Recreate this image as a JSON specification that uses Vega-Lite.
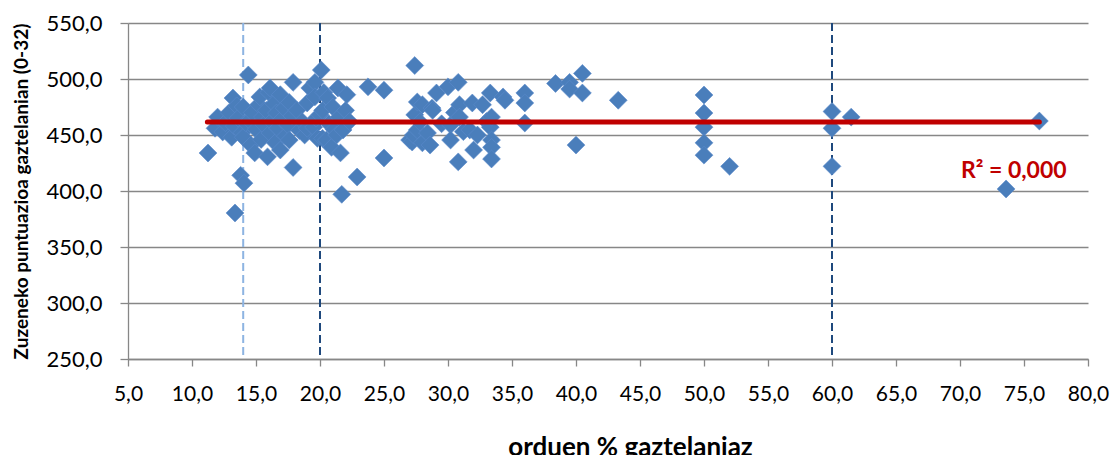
{
  "$schema": "https://vega.github.io/schema/vega-lite/v6.json",
  "width": 960,
  "height": 336,
  "autosize": {"type": "none"},
  "padding": {"left": 128, "top": 23, "right": 25, "bottom": 96},
  "background": "white",
  "config": {
    "view": {"stroke": null},
    "axis": {"labelFont": "Lato", "titleFont": "Lato", "labelColor": "#000000", "titleColor": "#000000"}
  },
  "datasets": {
    "points": [
      {"pct": 11.25, "score": 433.9}, {"pct": 11.8, "score": 456}, {"pct": 12.0, "score": 466}, {"pct": 12.4, "score": 452.7},
      {"pct": 12.6, "score": 461}, {"pct": 12.9, "score": 470}, {"pct": 13.1, "score": 448}, {"pct": 13.2, "score": 483},
      {"pct": 13.3, "score": 458}, {"pct": 13.36, "score": 380.4}, {"pct": 13.5, "score": 476}, {"pct": 13.6, "score": 465},
      {"pct": 13.8, "score": 414}, {"pct": 13.9, "score": 452}, {"pct": 14.0, "score": 475}, {"pct": 14.0, "score": 448},
      {"pct": 14.06, "score": 407}, {"pct": 14.2, "score": 461}, {"pct": 14.4, "score": 503.6}, {"pct": 14.5, "score": 463},
      {"pct": 14.6, "score": 441}, {"pct": 14.7, "score": 470}, {"pct": 14.9, "score": 434}, {"pct": 15.0, "score": 455},
      {"pct": 15.2, "score": 477}, {"pct": 15.3, "score": 484}, {"pct": 15.4, "score": 446}, {"pct": 15.5, "score": 466},
      {"pct": 15.6, "score": 459}, {"pct": 15.8, "score": 472}, {"pct": 15.9, "score": 430.5}, {"pct": 16.0, "score": 488},
      {"pct": 16.1, "score": 492}, {"pct": 16.1, "score": 451.8}, {"pct": 16.2, "score": 462}, {"pct": 16.4, "score": 478},
      {"pct": 16.5, "score": 443}, {"pct": 16.6, "score": 469.6}, {"pct": 16.7, "score": 456}, {"pct": 16.9, "score": 486},
      {"pct": 16.9, "score": 436.6}, {"pct": 17.0, "score": 464}, {"pct": 17.2, "score": 474}, {"pct": 17.3, "score": 449},
      {"pct": 17.5, "score": 459}, {"pct": 17.6, "score": 479}, {"pct": 17.6, "score": 445.5}, {"pct": 17.8, "score": 467},
      {"pct": 17.9, "score": 497}, {"pct": 17.9, "score": 421}, {"pct": 18.2, "score": 472}, {"pct": 18.4, "score": 454},
      {"pct": 18.6, "score": 462}, {"pct": 18.8, "score": 450},
      {"pct": 19.0, "score": 478.6}, {"pct": 19.0, "score": 456}, {"pct": 19.2, "score": 492}, {"pct": 19.5, "score": 457},
      {"pct": 19.6, "score": 497}, {"pct": 19.6, "score": 484}, {"pct": 19.7, "score": 465}, {"pct": 19.8, "score": 447},
      {"pct": 20.0, "score": 468}, {"pct": 20.1, "score": 508}, {"pct": 20.2, "score": 472}, {"pct": 20.2, "score": 447},
      {"pct": 20.3, "score": 488}, {"pct": 20.5, "score": 445.5}, {"pct": 20.6, "score": 483}, {"pct": 20.7, "score": 460},
      {"pct": 20.9, "score": 439}, {"pct": 21.0, "score": 475}, {"pct": 21.1, "score": 455}, {"pct": 21.3, "score": 450},
      {"pct": 21.4, "score": 492}, {"pct": 21.5, "score": 466}, {"pct": 21.6, "score": 434}, {"pct": 21.7, "score": 397},
      {"pct": 21.8, "score": 454.5}, {"pct": 22.0, "score": 472}, {"pct": 22.1, "score": 486}, {"pct": 22.3, "score": 462},
      {"pct": 22.9, "score": 412.5}, {"pct": 23.75, "score": 493}, {"pct": 25.0, "score": 490}, {"pct": 25.0, "score": 429.5},
      {"pct": 27.0, "score": 445.5}, {"pct": 27.2, "score": 443.7}, {"pct": 27.3, "score": 450}, {"pct": 27.4, "score": 468},
      {"pct": 27.4, "score": 512}, {"pct": 27.6, "score": 479.5}, {"pct": 27.6, "score": 454.5}, {"pct": 27.8, "score": 461.6},
      {"pct": 28.0, "score": 477}, {"pct": 28.0, "score": 443}, {"pct": 28.4, "score": 451.8}, {"pct": 28.6, "score": 441},
      {"pct": 28.75, "score": 474}, {"pct": 28.8, "score": 472}, {"pct": 29.1, "score": 487.5}, {"pct": 29.5, "score": 460},
      {"pct": 30.0, "score": 493}, {"pct": 30.2, "score": 459}, {"pct": 30.2, "score": 445.5}, {"pct": 30.5, "score": 470},
      {"pct": 30.8, "score": 497}, {"pct": 30.8, "score": 426}, {"pct": 30.9, "score": 477}, {"pct": 30.9, "score": 466},
      {"pct": 31.2, "score": 453}, {"pct": 31.7, "score": 454.5}, {"pct": 31.9, "score": 478.6}, {"pct": 32.0, "score": 436.6},
      {"pct": 32.3, "score": 450}, {"pct": 32.7, "score": 477}, {"pct": 33.0, "score": 462}, {"pct": 33.3, "score": 487.5},
      {"pct": 33.3, "score": 457}, {"pct": 33.4, "score": 466}, {"pct": 33.4, "score": 445.5}, {"pct": 33.4, "score": 439},
      {"pct": 33.4, "score": 428.6}, {"pct": 34.3, "score": 484}, {"pct": 34.45, "score": 481}, {"pct": 36.0, "score": 487.5},
      {"pct": 36.0, "score": 478.6}, {"pct": 36.0, "score": 460.7}, {"pct": 38.4, "score": 496}, {"pct": 39.5, "score": 497},
      {"pct": 39.5, "score": 491}, {"pct": 40.0, "score": 441}, {"pct": 40.5, "score": 505}, {"pct": 40.5, "score": 487.5},
      {"pct": 43.3, "score": 481},
      {"pct": 50.0, "score": 485.7}, {"pct": 50.0, "score": 469.6}, {"pct": 50.0, "score": 457}, {"pct": 50.0, "score": 443},
      {"pct": 50.0, "score": 432}, {"pct": 52.0, "score": 422}, {"pct": 60.0, "score": 471}, {"pct": 60.0, "score": 456},
      {"pct": 60.0, "score": 422}, {"pct": 61.5, "score": 466}, {"pct": 73.6, "score": 401.8}, {"pct": 76.2, "score": 462.5}
    ],
    "trend": [
      {"pct": 11.2, "score": 461.5},
      {"pct": 76.2, "score": 461.5}
    ],
    "vlines": [
      {"pct": 14.0, "kind": "light"},
      {"pct": 20.0, "kind": "dark"},
      {"pct": 60.0, "kind": "dark"}
    ],
    "label": [
      {"pct": 74.2, "score": 418, "text": "R² = 0,000"}
    ]
  },
  "layer": [
    {
      "data": {"name": "points"},
      "mark": {"type": "point", "opacity": 0},
      "encoding": {
        "x": {
          "field": "pct", "type": "quantitative",
          "scale": {"domain": [5, 80], "nice": false, "zero": false},
          "axis": {
            "values": [5,10,15,20,25,30,35,40,45,50,55,60,65,70,75,80],
            "labelExpr": "replace(format(datum.value, '.1f'), '.', ',')",
            "labelFontSize": 21, "labelPadding": 17, "labelOverlap": false, "labelFlush": false,
            "grid": false, "domainColor": "#878787", "domainWidth": 1.3,
            "tickColor": "#878787", "tickWidth": 1.3, "tickSize": 7,
            "title": "orduen % gaztelaniaz", "titleFontSize": 26, "titleFontWeight": "bold",
            "titleX": 502, "titleY": 75, "titleBaseline": "top", "titleAlign": "center"
          }
        },
        "y": {
          "field": "score", "type": "quantitative",
          "scale": {"domain": [250, 550], "nice": false, "zero": false},
          "axis": {
            "values": [250,300,350,400,450,500,550],
            "labelExpr": "replace(format(datum.value, '.1f'), '.', ',')",
            "labelFontSize": 22, "labelPadding": 18,
            "grid": true, "gridColor": "#878787", "gridWidth": 1.3,
            "domainColor": "#878787", "domainWidth": 1.3,
            "tickColor": "#878787", "tickWidth": 1.3, "tickSize": 8,
            "title": "Zuzeneko puntuazioa gaztelanian (0-32)", "titleFontSize": 19, "titleFontWeight": "bold",
            "titleX": -97, "titleY": 168, "titleAlign": "center", "titleAngle": -90
          }
        }
      }
    },
    {
      "data": {"name": "vlines"},
      "mark": {"type": "rule", "strokeWidth": 2, "strokeDash": [8, 4]},
      "encoding": {
        "x": {"field": "pct", "type": "quantitative"},
        "color": {
          "field": "kind", "type": "nominal",
          "scale": {"domain": ["light", "dark"], "range": ["#8DB4E2", "#1F497D"]},
          "legend": null
        }
      }
    },
    {
      "data": {"name": "points"},
      "mark": {"type": "point", "shape": "diamond", "size": 320, "filled": true, "opacity": 1, "color": "#4A7EBB", "stroke": "#5A8ACB", "strokeWidth": 0.6},
      "encoding": {
        "x": {"field": "pct", "type": "quantitative"},
        "y": {"field": "score", "type": "quantitative"}
      }
    },
    {
      "data": {"name": "trend"},
      "mark": {"type": "line", "color": "#C00000", "strokeWidth": 5, "strokeCap": "round"},
      "encoding": {
        "x": {"field": "pct", "type": "quantitative"},
        "y": {"field": "score", "type": "quantitative"}
      }
    },
    {
      "data": {"name": "label"},
      "mark": {"type": "text", "font": "Lato", "fontSize": 23, "fontWeight": "bold", "color": "#C00000", "align": "center", "baseline": "middle"},
      "encoding": {
        "x": {"field": "pct", "type": "quantitative"},
        "y": {"field": "score", "type": "quantitative"},
        "text": {"field": "text"}
      }
    }
  ]
}
